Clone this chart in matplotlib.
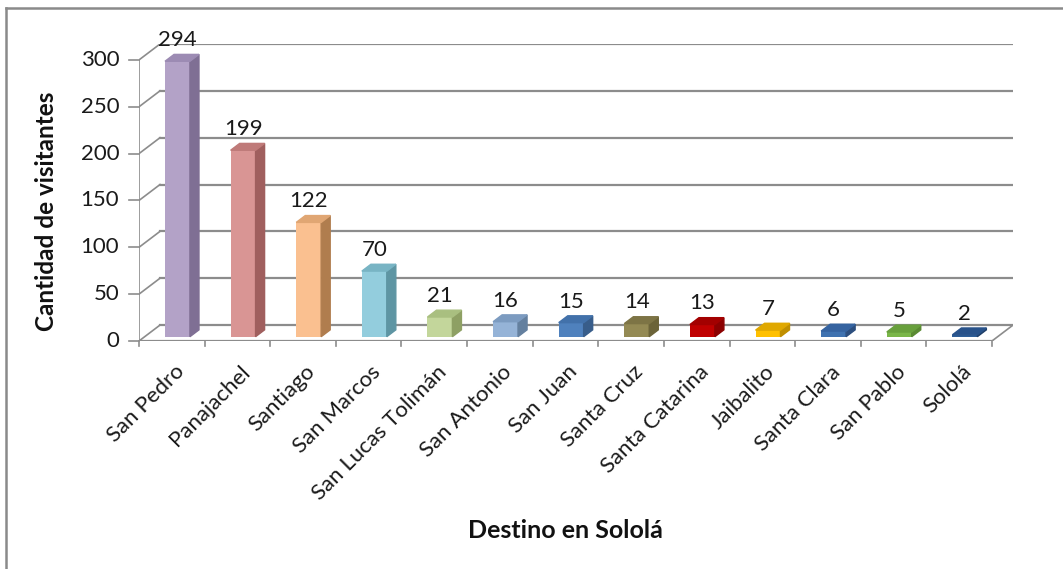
import numpy as np
import matplotlib.pyplot as plt
from matplotlib.patches import Polygon
from matplotlib.lines import Line2D

plt.rcParams['font.family'] = ['Lato', 'DejaVu Sans']

destinos = ['San Pedro', 'Panajachel', 'Santiago', 'San Marcos', 'San Lucas Tolimán',
            'San Antonio', 'San Juan', 'Santa Cruz', 'Santa Catarina', 'Jaibalito',
            'Santa Clara', 'San Pablo', 'Sololá']
visitantes = [294, 199, 122, 70, 21, 16, 15, 14, 13, 7, 6, 5, 2]
y_ticks = [0, 50, 100, 150, 200, 250, 300]

front_colors = ['#b3a2c7', '#d99594', '#fac090', '#93cddd', '#c3d69b', '#95b3d7', '#4f81bd',
                '#948a54', '#c00000', '#ffc000', '#3f72b0', '#7ab648', '#2f5f98']
side_colors = ['#7f6f94', '#a05f5e', '#b07d4e', '#5e95a3', '#8ea064', '#64809f', '#385d8a',
               '#6b6338', '#8b0000', '#c08f00', '#2c4e7e', '#5a8a32', '#1f3f68']
top_colors = ['#9c8bb3', '#bf7a79', '#e0a673', '#78b4c4', '#a9bf80', '#7c9bc0', '#4271aa',
              '#7d7445', '#a30000', '#e0a800', '#3563a0', '#68a03c', '#28528a']

# depth of back wall (data units) and bar geometry
DX, DY = 0.32, 17.0
f = 0.27        # bar position in depth
w = 0.38        # bar width
d = 0.43        # bar depth as fraction of wall depth
grid_c = '#8c8c8c'
txt_c = '#1a1a1a'

fig = plt.figure(figsize=(10.63, 5.69), dpi=100)
ax = fig.add_axes([139/1063, 1-341/569, (1013-139)/1063, (341-44)/569])
n = len(destinos)
ax.set_xlim(0, n + DX)
ax.set_ylim(0, 300 + DY)
ax.axis('off')

# back wall gridlines and left diagonals
for v in y_ticks:
    ax.plot([DX, n + DX], [v + DY, v + DY], color=grid_c, lw=1.6, zorder=1)
    ax.plot([0, DX], [v, v + DY], color=grid_c, lw=1.2, zorder=1)
    ax.plot([-0.15, 0], [v, v], color=grid_c, lw=1.2, clip_on=False)
    ax.text(-0.3, v, str(v), ha='right', va='center', fontsize=16, color=txt_c)

# floor
ax.plot([0, n], [0, 0], color=grid_c, lw=1.6, zorder=2)
ax.plot([n, n + DX], [0, DY], color=grid_c, lw=1.2, zorder=2)
ax.plot([0, 0], [0, 300], color=grid_c, lw=1.2, zorder=2)
for i in range(n + 1):
    ax.plot([i, i], [0, -5], color=grid_c, lw=1.2, clip_on=False)

# bars
for i, v in enumerate(visitantes):
    xl = i + 0.5 + f * DX - w / 2
    xr = xl + w
    b = f * DY
    ddx, ddy = d * DX, d * DY
    ax.bar(xl, v, width=w, bottom=b, align='edge', color=front_colors[i], zorder=3)
    ax.add_patch(Polygon([(xr, b), (xr + ddx, b + ddy), (xr + ddx, b + v + ddy), (xr, b + v)],
                         closed=True, color=side_colors[i], zorder=3))
    ax.add_patch(Polygon([(xl, b + v), (xr, b + v), (xr + ddx, b + v + ddy), (xl + ddx, b + v + ddy)],
                         closed=True, color=top_colors[i], zorder=3))
    ax.annotate(str(v), (xl + w / 2, b + v), xytext=(0, 8), textcoords='offset points',
                ha='center', va='bottom', fontsize=16, color=txt_c)

# category labels
for i, name in enumerate(destinos):
    ax.text(i + 0.53, -22, name, rotation=45, ha='right', va='top', rotation_mode='anchor',
            fontsize=16, color=txt_c)

fig.text(47/1063, 1-211/569, 'Cantidad de visitantes', rotation=90, ha='center', va='center',
         fontsize=17.5, fontweight='bold', color='#111111')
fig.text(565/1063, 1-530/569, 'Destino en Sololá', ha='center', va='center',
         fontsize=18, fontweight='bold', color='#111111')

# chart border
fig.add_artist(Line2D([6/1063, 1], [1-8/569, 1-8/569], color='#8a8a8a', lw=1.8))
fig.add_artist(Line2D([6/1063, 6/1063], [0, 1-8/569], color='#8a8a8a', lw=1.8))

fig.savefig('out.png', dpi=100)
